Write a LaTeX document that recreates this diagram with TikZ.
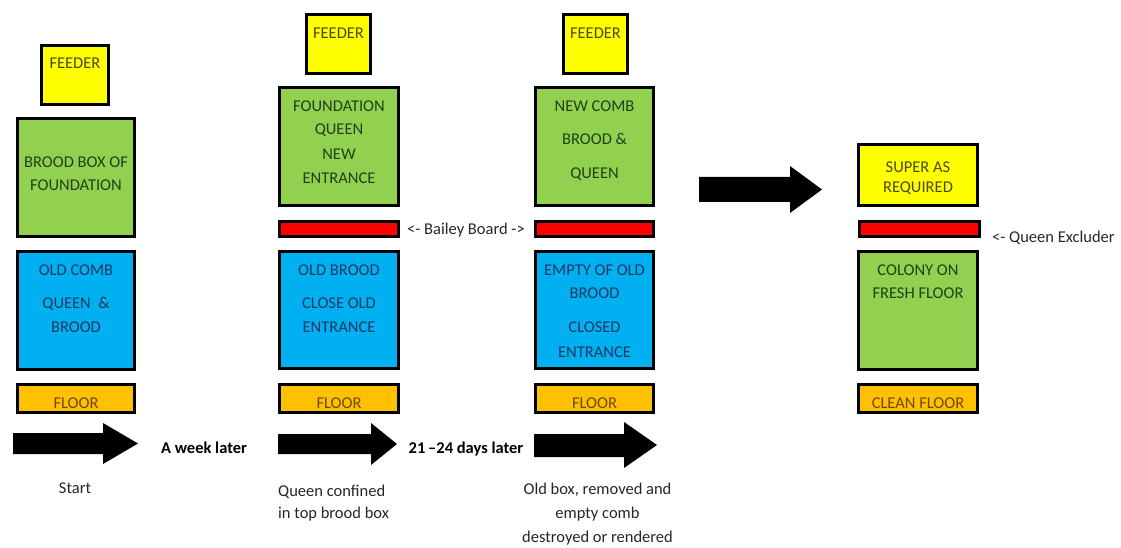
\documentclass[tikz,border=0pt]{standalone}
\usepackage{fontspec}
\setmainfont{Carlito}
\definecolor{feedY}{HTML}{FFFF00}
\definecolor{boxG}{HTML}{92D050}
\definecolor{boxB}{HTML}{00B0F0}
\definecolor{boxR}{HTML}{FF0000}
\definecolor{boxO}{HTML}{FFC000}
\definecolor{txtY}{HTML}{4A4A10}
\definecolor{txtG}{HTML}{22401A}
\definecolor{txtB}{HTML}{1F3864}
\definecolor{txtO}{HTML}{6B4A00}
\begin{document}
\begin{tikzpicture}[x=1pt,y=-1pt,
  box/.style={draw=black, line width=3pt, rectangle, inner sep=0pt, outer sep=0pt},
  lbl/.style={anchor=base, inner sep=0pt, font=\fontsize{16.5}{19}\selectfont},
  tY/.style={lbl, text=txtY},
  tG/.style={lbl, text=txtG},
  tB/.style={lbl, text=txtB},
  tO/.style={lbl, text=txtO},
  note/.style={lbl, text=black!85},
  bignote/.style={lbl, text=black, font=\fontsize{16.5}{19}\selectfont\bfseries},
  arr/.style={fill=black}]
\useasboundingbox (0,0) rectangle (1121,548);
% ---------- column 1
\node[box, fill=feedY, minimum width=67, minimum height=59] (f1) at (75,75) {};
\node[box, fill=boxG, minimum width=117, minimum height=118] (g1) at (76,177.5) {};
\node[box, fill=boxB, minimum width=117, minimum height=118] (b1) at (76,310.5) {};
\node[box, fill=boxO, minimum width=117, minimum height=28] (o1) at (76,398.5) {};
\node[tY] (f1t) at (75,68.5) {FEEDER};
\node[tG] (g1a) at (76,167.5) {BROOD BOX OF};
\node[tG] (g1b) at (76,190.5) {FOUNDATION};
\node[tB] (b1a) at (76,275.5) {OLD COMB};
\node[tB] (b1b) at (76,308.5) {QUEEN\ \ \&};
\node[tB] (b1c) at (76,332.5) {BROOD};
\node[tO] (o1t) at (76,408.5) {FLOOR};
% ---------- column 2
\node[box, fill=feedY, minimum width=64, minimum height=59] (f2) at (338.5,44) {};
\node[box, fill=boxG, minimum width=119, minimum height=118] (g2) at (339,146.5) {};
\node[box, fill=boxR, minimum width=119, minimum height=15] (r2) at (339,229) {};
\node[box, fill=boxB, minimum width=119, minimum height=117] (b2) at (339,310) {};
\node[box, fill=boxO, minimum width=119, minimum height=28] (o2) at (339,398.5) {};
\node[tY] (f2t) at (338.5,38.5) {FEEDER};
\node[tG] (g2a) at (339,111.5) {FOUNDATION};
\node[tG] (g2b) at (339,134.5) {QUEEN};
\node[tG] (g2c) at (339,159.5) {NEW};
\node[tG] (g2d) at (339,183.5) {ENTRANCE};
\node[tB] (b2a) at (339,275.5) {OLD BROOD};
\node[tB] (b2b) at (339,308.5) {CLOSE OLD};
\node[tB] (b2c) at (339,332.5) {ENTRANCE};
\node[tO] (o2t) at (339,408.5) {FLOOR};
% ---------- column 3
\node[box, fill=feedY, minimum width=64, minimum height=59] (f3) at (595.5,44) {};
\node[box, fill=boxG, minimum width=118, minimum height=118] (g3) at (594.5,146.5) {};
\node[box, fill=boxR, minimum width=118, minimum height=15] (r3) at (594.5,229) {};
\node[box, fill=boxB, minimum width=118, minimum height=117] (b3) at (594.5,310) {};
\node[box, fill=boxO, minimum width=118, minimum height=28] (o3) at (594.5,398.5) {};
\node[tY] (f3t) at (595.5,38.5) {FEEDER};
\node[tG] (g3a) at (594.5,111.5) {NEW COMB};
\node[tG] (g3b) at (594.5,144.5) {BROOD \&};
\node[tG] (g3c) at (594.5,178.5) {QUEEN};
\node[tB] (b3a) at (594.5,275.5) {EMPTY OF OLD};
\node[tB] (b3b) at (594.5,298.5) {BROOD};
\node[tB] (b3c) at (594.5,332.5) {CLOSED};
\node[tB] (b3d) at (594.5,357.5) {ENTRANCE};
\node[tO] (o3t) at (594.5,408.5) {FLOOR};
% ---------- column 4
\node[box, fill=feedY, minimum width=119, minimum height=61] (s4) at (918,175) {};
\node[box, fill=boxR, minimum width=120, minimum height=15] (r4) at (919.5,229) {};
\node[box, fill=boxG, minimum width=119, minimum height=118] (g4) at (918,310.5) {};
\node[box, fill=boxO, minimum width=119, minimum height=28] (o4) at (918,398.5) {};
\node[tY] (s4a) at (918,172.5) {SUPER AS};
\node[tY] (s4b) at (918,192.5) {REQUIRED};
\node[tG] (g4a) at (918,275.5) {COLONY ON};
\node[tG] (g4b) at (918,298.5) {FRESH FLOOR};
\node[tO] (o4t) at (918,408.5) {CLEAN FLOOR};
% ---------- side labels
\node[note] (bailey) at (466,234.5) {<- Bailey Board ->};
\node[note, anchor=base west] (excl) at (992,242.5) {<- Queen Excluder};
% ---------- arrows
\fill[arr] (13,433) -- (103,433) -- (103,423) -- (138,443.5) -- (103,464) -- (103,454) -- (13,454) -- cycle;
\fill[arr] (278,434) -- (371,434) -- (371,423) -- (397,444) -- (371,465) -- (371,454) -- (278,454) -- cycle;
\fill[arr] (534,434) -- (624,434) -- (624,422) -- (657,445) -- (624,468) -- (624,457) -- (534,457) -- cycle;
\fill[arr] (699,177) -- (790,177) -- (790,166) -- (822,189.5) -- (790,213) -- (790,202) -- (699,202) -- cycle;
% ---------- arrow captions
\node[bignote] (wk) at (204,453.5) {A week later};
\node[bignote] (days) at (466,453.5) {21\,\textendash24 days later};
\node[note] (start) at (75,493.5) {Start};
\node[note, anchor=base west] (qc1) at (278,496.5) {Queen confined};
\node[note, anchor=base west] (qc2) at (278,518.5) {in top brood box};
\node[note] (ob1) at (597.5,494.5) {Old box, removed and};
\node[note] (ob2) at (597.5,518.5) {empty comb};
\node[note] (ob3) at (597.5,542.5) {destroyed or rendered};
\end{tikzpicture}
\end{document}
